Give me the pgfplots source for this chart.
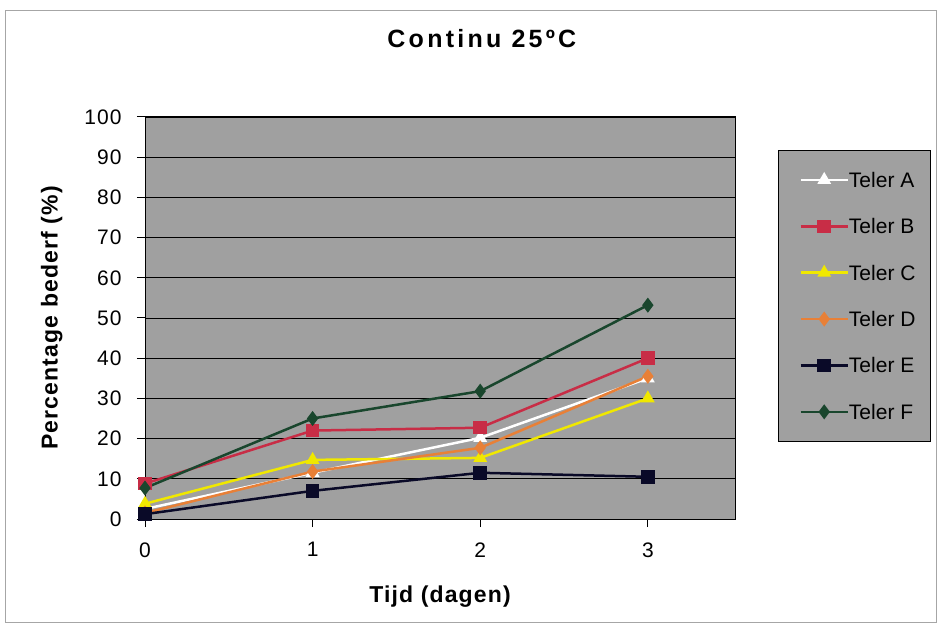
\documentclass[border=0pt]{standalone}
\usepackage{fontspec}
\setmainfont{Liberation Sans}
\newfontfamily\titlefont[LetterSpace=13]{Liberation Sans}
\newfontfamily\labelfont[LetterSpace=5]{Liberation Sans}
\newfontfamily\tickfont[LetterSpace=5]{Liberation Sans}
\usepackage{pgfplots}
\pgfplotsset{compat=1.18}
\definecolor{plotgray}{RGB}{160,160,160}
\definecolor{telerB}{RGB}{200,45,70}
\definecolor{telerC}{RGB}{240,232,0}
\definecolor{telerD}{RGB}{232,128,55}
\definecolor{telerE}{RGB}{10,10,40}
\definecolor{telerF}{RGB}{25,70,45}
\begin{document}
\begin{tikzpicture}[x=1pt,y=1pt]
\path[use as bounding box] (0,0) rectangle (940,627);
\fill[white] (0,0) rectangle (940,627);
\draw[gray!70, line width=1pt] (5,5) rectangle (936,616);
\begin{axis}[
  at={(145pt,108pt)}, anchor=south west,
  scale only axis, width=590pt, height=402pt,
  xmin=0, xmax=3.52, ymin=0, ymax=100,
  xtick={0,1,2,3}, ytick={0,10,...,100},
  axis background/.style={fill=plotgray},
  ymajorgrids, grid style={black, line width=0.8pt},
  axis line style={black, line width=1pt},
  tick style={black, line width=1pt},
  tick align=outside, major tick length=8pt,
  tick pos=left,
  /pgf/number format/assume math mode=true,
  tick label style={font=\fontsize{21}{21}\selectfont\tickfont},
  xticklabel style={yshift=-12pt},
  yticklabel style={xshift=-12pt},
  xlabel={Tijd (dagen)},
  ylabel={Percentage bederf (\%)},
  label style={font=\fontsize{23}{23}\selectfont\labelfont\bfseries},
  xlabel style={at={(axis description cs:0.5,-0.194)}, anchor=center},
  ylabel style={at={(axis description cs:-0.158,0.5)}, anchor=center},
  title={Continu 25ºC},
  title style={at={(axis description cs:0.571,1.179)}, anchor=center, font=\fontsize{25}{25}\selectfont\titlefont\bfseries},
  every axis plot/.append style={line width=2.5pt, mark size=5.5pt, mark options={solid, line width=1pt}},
  legend style={at={(axis description cs:1.073,0.918)}, anchor=north west,
    fill=plotgray, draw=black, line width=0.8pt,
    font=\fontsize{21}{21}\selectfont,
    inner xsep=15pt, inner ysep=22pt,
    row sep=31.4pt,
    nodes={inner sep=0pt, text height=15pt, text depth=0pt},
    /tikz/every even column/.append style={column sep=6pt}},
  legend cell align=left,
  legend image code/.code={\path (0pt,0pt); \draw[mark repeat=2,mark phase=2] plot coordinates {(6pt,0pt) (29.5pt,0pt) (53pt,0pt)};},
]
\addplot[white, mark=triangle*, mark options={fill=white}] coordinates {(0,2.5)(1,11.5)(2,20.2)(3,35)};
\addlegendentry{Teler A}
\addplot[telerB, mark=square*, mark options={fill=telerB}] coordinates {(0,8.8)(1,22)(2,22.7)(3,40)};
\addlegendentry{Teler B}
\addplot[telerC, mark=triangle*, mark options={fill=telerC}] coordinates {(0,3.8)(1,14.7)(2,15.2)(3,30)};
\addlegendentry{Teler C}
\addplot[telerD, mark=diamond*, mark options={fill=telerD}] coordinates {(0,1.5)(1,11.8)(2,17.7)(3,35.5)};
\addlegendentry{Teler D}
\addplot[telerE, mark=square*, mark options={fill=telerE}] coordinates {(0,1.2)(1,7)(2,11.5)(3,10.5)};
\addlegendentry{Teler E}
\addplot[telerF, mark=diamond*, mark options={fill=telerF}] coordinates {(0,7.7)(1,25)(2,31.8)(3,53.2)};
\addlegendentry{Teler F}
\end{axis}
\end{tikzpicture}
\end{document}
